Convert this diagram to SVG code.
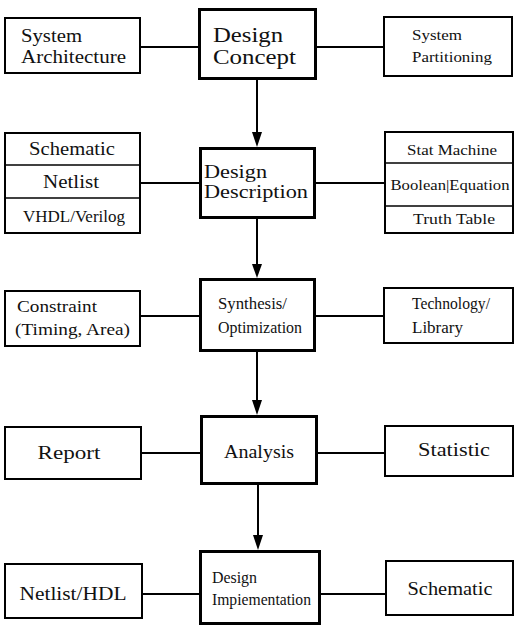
<svg xmlns="http://www.w3.org/2000/svg" width="517" height="626" viewBox="0 0 517 626">
<style>
  .box{fill:#fff;stroke:#000;stroke-width:2}
  .main{fill:#fff;stroke:#000;stroke-width:3}
  .div{stroke:#000;stroke-width:1.5}
  .conn{stroke:#000;stroke-width:2;fill:none}
  .head{fill:#000;stroke:none}
  text{font-family:"Liberation Serif","Times New Roman",serif;fill:#111}
  .c{text-anchor:middle}
</style>
<rect width="517" height="626" fill="#fff"/>
<g id="connectors">
  <line class="conn" x1="140" y1="47" x2="199" y2="47"/>
  <line class="conn" x1="316" y1="47" x2="384" y2="47"/>
  <line class="conn" x1="140" y1="183" x2="200" y2="183"/>
  <line class="conn" x1="314" y1="183" x2="385" y2="183"/>
  <line class="conn" x1="140" y1="316" x2="200" y2="316"/>
  <line class="conn" x1="314" y1="316" x2="384" y2="316"/>
  <line class="conn" x1="141" y1="453" x2="201" y2="453"/>
  <line class="conn" x1="317" y1="453" x2="385" y2="453"/>
  <line class="conn" x1="142" y1="594" x2="200" y2="594"/>
  <line class="conn" x1="320" y1="594" x2="386" y2="594"/>
  <line class="conn" x1="257" y1="80" x2="257" y2="134"/>
  <polygon class="head" points="252,132 262,132 257,147"/>
  <line class="conn" x1="257" y1="218" x2="257" y2="266"/>
  <polygon class="head" points="252,264 262,264 257,278"/>
  <line class="conn" x1="257" y1="352" x2="257" y2="402"/>
  <polygon class="head" points="252,400 262,400 257,415"/>
  <line class="conn" x1="258" y1="485" x2="258" y2="537"/>
  <polygon class="head" points="253,535 263,535 258,550"/>
</g>
<g id="system-architecture">
  <rect class="box" x="5" y="18" width="135" height="55"/>
  <text x="21" y="42" font-size="18" textLength="61" lengthAdjust="spacingAndGlyphs">System</text>
  <text x="21" y="63" font-size="18" textLength="105" lengthAdjust="spacingAndGlyphs">Architecture</text>
</g>
<g id="design-concept">
  <rect class="main" x="199.5" y="9.5" width="116" height="69"/>
  <text x="213" y="42" font-size="21.5" textLength="70" lengthAdjust="spacingAndGlyphs">Design</text>
  <text x="213" y="64" font-size="21.5" textLength="83" lengthAdjust="spacingAndGlyphs">Concept</text>
</g>
<g id="system-partitioning">
  <rect class="box" x="384" y="17" width="128" height="59"/>
  <text x="412" y="40" font-size="15" textLength="50" lengthAdjust="spacingAndGlyphs">System</text>
  <text x="412" y="62" font-size="15" textLength="80" lengthAdjust="spacingAndGlyphs">Partitioning</text>
</g>
<g id="description-inputs">
  <rect class="box" x="5" y="133" width="135" height="100"/>
  <line class="div" x1="5" y1="165" x2="140" y2="165"/>
  <line class="div" x1="5" y1="198" x2="140" y2="198"/>
  <text class="c" x="72" y="155" font-size="18" textLength="86" lengthAdjust="spacingAndGlyphs">Schematic</text>
  <text class="c" x="71" y="188" font-size="18" textLength="56" lengthAdjust="spacingAndGlyphs">Netlist</text>
  <text class="c" x="74" y="222" font-size="16.5" textLength="102" lengthAdjust="spacingAndGlyphs">VHDL/Verilog</text>
</g>
<g id="design-description">
  <rect class="main" x="200.5" y="148.5" width="114" height="69"/>
  <text x="204" y="178" font-size="19.5" textLength="63" lengthAdjust="spacingAndGlyphs">Design</text>
  <text x="204" y="198" font-size="19.5" textLength="104" lengthAdjust="spacingAndGlyphs">Description</text>
</g>
<g id="description-forms">
  <rect class="box" x="385" y="132" width="128" height="101"/>
  <line class="div" x1="385" y1="163" x2="513" y2="163"/>
  <line class="div" x1="385" y1="206" x2="513" y2="206"/>
  <text class="c" x="452" y="155" font-size="15" textLength="90" lengthAdjust="spacingAndGlyphs">Stat Machine</text>
  <text class="c" x="450" y="190" font-size="15" textLength="119" lengthAdjust="spacingAndGlyphs">Boolean|Equation</text>
  <text class="c" x="454" y="224" font-size="15.5" textLength="82" lengthAdjust="spacingAndGlyphs">Truth Table</text>
</g>
<g id="constraint">
  <rect class="box" x="5" y="291" width="135" height="55"/>
  <text x="17" y="312" font-size="17" textLength="80" lengthAdjust="spacingAndGlyphs">Constraint</text>
  <text x="15" y="335" font-size="17" textLength="115" lengthAdjust="spacingAndGlyphs">(Timing, Area)</text>
</g>
<g id="synthesis-optimization">
  <rect class="main" x="200.5" y="279.5" width="114" height="71"/>
  <text x="218" y="309" font-size="16.5" textLength="69" lengthAdjust="spacingAndGlyphs">Synthesis/</text>
  <text x="218" y="333" font-size="16.5" textLength="84" lengthAdjust="spacingAndGlyphs">Optimization</text>
</g>
<g id="technology-library">
  <rect class="box" x="384" y="288" width="129" height="55"/>
  <text x="412" y="309" font-size="16.5" textLength="78" lengthAdjust="spacingAndGlyphs">Technology/</text>
  <text x="412" y="333" font-size="16.5" textLength="51" lengthAdjust="spacingAndGlyphs">Library</text>
</g>
<g id="report">
  <rect class="box" x="5" y="427" width="136" height="52"/>
  <text class="c" x="69" y="459" font-size="19.5" textLength="63" lengthAdjust="spacingAndGlyphs">Report</text>
</g>
<g id="analysis">
  <rect class="main" x="201.5" y="416.5" width="115" height="67"/>
  <text class="c" x="259" y="458" font-size="19" textLength="70" lengthAdjust="spacingAndGlyphs">Analysis</text>
</g>
<g id="statistic">
  <rect class="box" x="385" y="426" width="128" height="50"/>
  <text class="c" x="454" y="456" font-size="19" textLength="72" lengthAdjust="spacingAndGlyphs">Statistic</text>
</g>
<g id="netlist-hdl">
  <rect class="box" x="5" y="564" width="137" height="54"/>
  <text class="c" x="73" y="600" font-size="19" textLength="107" lengthAdjust="spacingAndGlyphs">Netlist/HDL</text>
</g>
<g id="design-implementation">
  <rect class="main" x="200.5" y="551.5" width="119" height="72"/>
  <text x="212" y="583" font-size="16" textLength="45" lengthAdjust="spacingAndGlyphs">Design</text>
  <text x="212" y="605" font-size="16" textLength="99" lengthAdjust="spacingAndGlyphs">Impiementation</text>
</g>
<g id="schematic-out">
  <rect class="box" x="386" y="561" width="127" height="54"/>
  <text class="c" x="450" y="595" font-size="18" textLength="85" lengthAdjust="spacingAndGlyphs">Schematic</text>
</g>
</svg>
